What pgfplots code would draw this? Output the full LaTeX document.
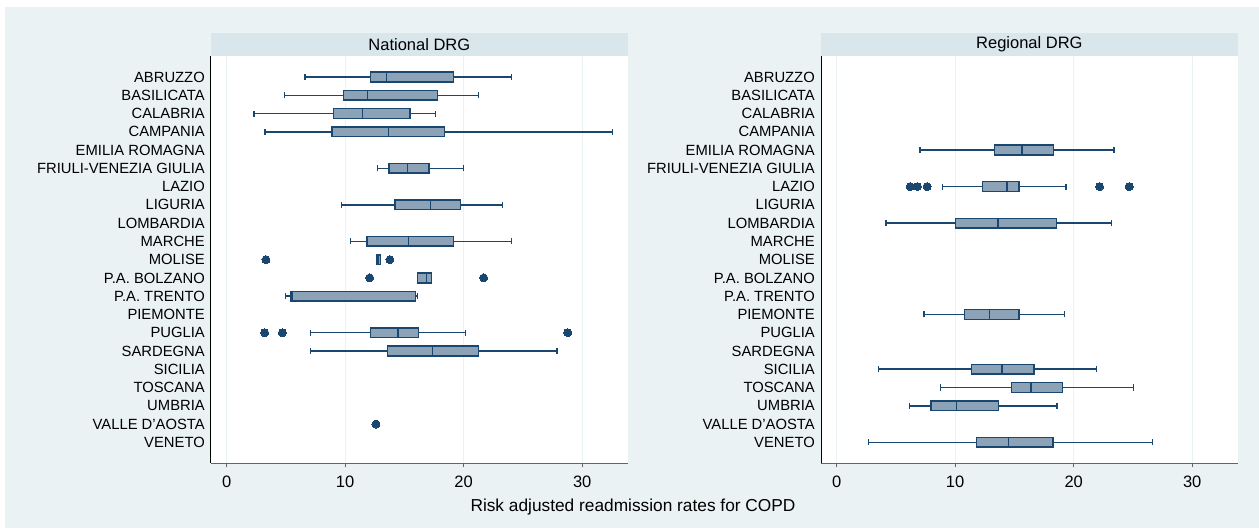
\documentclass[border=0pt]{standalone}
\usepackage{pgfplots}
\pgfplotsset{compat=1.18}
\usepgfplotslibrary{statistics}
\usepackage{fontspec}
\setmainfont{Liberation Sans}
\definecolor{bg}{RGB}{234,242,243}
\definecolor{strip}{RGB}{217,230,235}
\definecolor{navy}{RGB}{26,71,111}
\definecolor{boxfill}{RGB}{140,163,183}
\definecolor{axgray}{RGB}{100,100,100}
\pgfplotsset{
  panel/.style={
    scale only axis, width=416.7pt, height=407.3pt,
    xmin=-1.32, xmax=33.84, ymin=-22.15, ymax=0.15,
    /pgf/number format/assume math mode=true,
    axis background/.style={fill=white},
    axis x line*=bottom, axis y line*=left,
    x axis line style={-, axgray, line width=1.6},
    y axis line style={-, black, line width=1},
    xtick={0,10,20,30}, ytick={-21,...,-1},
    yticklabels={VENETO,VALLE D'AOSTA,UMBRIA,TOSCANA,SICILIA,SARDEGNA,PUGLIA,PIEMONTE,P.A. TRENTO,P.A. BOLZANO,MOLISE,MARCHE,LOMBARDIA,LIGURIA,LAZIO,FRIULI-VENEZIA GIULIA,EMILIA ROMAGNA,CAMPANIA,CALABRIA,BASILICATA,ABRUZZO},
    y tick style={draw=none}, ymajorgrids=false,
    xmajorgrids, grid style={bg, line width=1},
    x tick style={axgray, line width=0.8}, tick align=outside, major tick length=4,
    xticklabel style={font=\fontsize{16.5}{16.5}\selectfont, inner sep=0pt, yshift=-8},
    yticklabel style={font=\fontsize{14.8}{14.8}\selectfont, inner sep=0pt, xshift=-2},
    boxplot/draw direction=x, boxplot/box extend=0.53, boxplot/whisker extend=0.33,
    boxplot/every box/.style={fill=boxfill, draw=navy, line width=1.5pt},
    boxplot/every whisker/.style={draw=navy, line width=1.5pt},
    boxplot/every median/.style={draw=navy, line width=1.5pt},
  },
  bx/.style={draw=navy, line width=1.5pt, mark=*, mark size=4, mark options={fill=navy, draw=navy, line width=0}},
}
\begin{document}
\begin{tikzpicture}
\path[use as bounding box] (0,0) rectangle (1259pt,528pt);
\fill[white] (0,0) rectangle (1259pt,528pt);
\fill[bg] (5pt,0) rectangle (1259pt,521pt);
% strips
\fill[strip] (211pt,472pt) rectangle (627.7pt,495pt);
\node[font=\fontsize{16.5}{16.5}\selectfont] at (419.35pt,483.5pt) {National DRG};
\fill[strip] (821pt,472pt) rectangle (1237.7pt,495pt);
\node[font=\fontsize{16.5}{16.5}\selectfont] at (1029.35pt,483.5pt) {Regional DRG};

\begin{axis}[panel, anchor=south west, at={(211pt,64.7pt)}]
\addplot[bx, boxplot prepared={draw position=-1, lower whisker=6.61, lower quartile=12.12, median=13.47, upper quartile=19.16, upper whisker=24.05}] coordinates {};
\addplot[bx, boxplot prepared={draw position=-2, lower whisker=4.87, lower quartile=9.85, median=11.9, upper quartile=17.78, upper whisker=21.27}] coordinates {};
\addplot[bx, boxplot prepared={draw position=-3, lower whisker=2.31, lower quartile=9.0, median=11.45, upper quartile=15.47, upper whisker=17.64}] coordinates {};
\addplot[bx, boxplot prepared={draw position=-4, lower whisker=3.23, lower quartile=8.89, median=13.67, upper quartile=18.4, upper whisker=32.55}] coordinates {};
\addplot[bx, boxplot prepared={draw position=-6, lower whisker=12.74, lower quartile=13.70, median=15.27, upper quartile=17.07, upper whisker=20.0}] coordinates {};
\addplot[bx, boxplot prepared={draw position=-8, lower whisker=9.70, lower quartile=14.2, median=17.19, upper quartile=19.75, upper whisker=23.26}] coordinates {};
\addplot[bx, boxplot prepared={draw position=-10, lower whisker=10.44, lower quartile=11.84, median=15.36, upper quartile=19.16, upper whisker=24.05}] coordinates {};
\addplot[bx, boxplot prepared={draw position=-11, lower whisker=12.69, lower quartile=12.69, median=12.83, upper quartile=12.97, upper whisker=12.97}] table[row sep=\\, y index=0] {data\\ 3.32\\ 13.78\\};
\addplot[bx, boxplot prepared={draw position=-12, lower whisker=16.09, lower quartile=16.09, median=16.88, upper quartile=17.27, upper whisker=17.27}] table[row sep=\\, y index=0] {data\\ 12.07\\ 21.69\\};
\addplot[bx, boxplot prepared={draw position=-13, lower whisker=4.95, lower quartile=5.40, median=5.52, upper quartile=15.92, upper whisker=16.12}] coordinates {};
\addplot[bx, boxplot prepared={draw position=-15, lower whisker=7.06, lower quartile=12.12, median=14.46, upper quartile=16.2, upper whisker=20.17}] table[row sep=\\, y index=0] {data\\ 3.21\\ 4.70\\ 28.78\\};
\addplot[bx, boxplot prepared={draw position=-16, lower whisker=7.06, lower quartile=13.59, median=17.36, upper quartile=21.27, upper whisker=27.88}] coordinates {};
\addplot[bx, only marks] coordinates {(12.6,-20)};
\end{axis}

\begin{axis}[panel, anchor=south west, at={(821pt,64.7pt)}]
\addplot[bx, boxplot prepared={draw position=-5, lower whisker=7.04, lower quartile=13.33, median=15.63, upper quartile=18.29, upper whisker=23.4}] coordinates {};
\addplot[bx, boxplot prepared={draw position=-7, lower whisker=8.92, lower quartile=12.32, median=14.37, upper quartile=15.38, upper whisker=19.36}] table[row sep=\\, y index=0] {data\\ 6.2\\ 6.82\\ 7.63\\ 22.19\\ 24.69\\};
\addplot[bx, boxplot prepared={draw position=-9, lower whisker=4.15, lower quartile=10.04, median=13.61, upper quartile=18.55, upper whisker=23.2}] coordinates {};
\addplot[bx, boxplot prepared={draw position=-14, lower whisker=7.35, lower quartile=10.80, median=12.91, upper quartile=15.38, upper whisker=19.22}] coordinates {};
\addplot[bx, boxplot prepared={draw position=-17, lower whisker=3.54, lower quartile=11.39, median=13.97, upper quartile=16.67, upper whisker=21.91}] coordinates {};
\addplot[bx, boxplot prepared={draw position=-18, lower whisker=8.75, lower quartile=14.76, median=16.39, upper quartile=19.05, upper whisker=25.03}] coordinates {};
\addplot[bx, boxplot prepared={draw position=-19, lower whisker=6.14, lower quartile=7.94, median=10.13, upper quartile=13.66, upper whisker=18.6}] coordinates {};
\addplot[bx, boxplot prepared={draw position=-21, lower whisker=2.67, lower quartile=11.78, median=14.48, upper quartile=18.27, upper whisker=26.63}] coordinates {};
\end{axis}

\node[font=\fontsize{17.3}{17.3}\selectfont] at (633pt,21.3pt) {Risk adjusted readmission rates for COPD};
\end{tikzpicture}
\end{document}
